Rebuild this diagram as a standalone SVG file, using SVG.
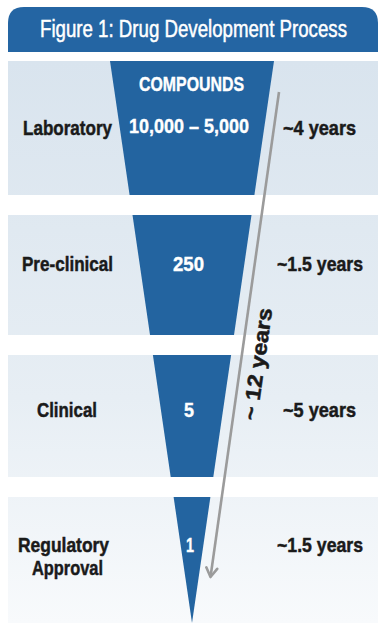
<svg xmlns="http://www.w3.org/2000/svg" width="380" height="623" viewBox="0 0 380 623">
<defs>
<linearGradient id="bandGrad" gradientUnits="userSpaceOnUse" x1="0" y1="61" x2="0" y2="623">
<stop offset="0" stop-color="#d9e4ee"/>
<stop offset="0.6" stop-color="#e7eef4"/>
<stop offset="1" stop-color="#f8fafc"/>
</linearGradient>
<marker id="arrowHead" markerUnits="userSpaceOnUse" markerWidth="14" markerHeight="14" viewBox="-12 -7 14 14" refX="0" refY="0" orient="auto">
<path d="M-9,-5.5 L0,0 L-9,5.5" fill="none" stroke="#9b9b9b" stroke-width="2.6" stroke-linejoin="round" stroke-linecap="round"/>
</marker>
<style>
.band{fill:url(#bandGrad);}
.funnel{fill:#2364a0;}
.lbl{font-family:"Liberation Sans Narrow","Liberation Sans",Arial,sans-serif;font-weight:bold;font-size:21px;fill:#1a1a1a;stroke:#1a1a1a;stroke-width:0.5px;}
.num{font-family:"Liberation Sans Narrow","Liberation Sans",Arial,sans-serif;font-weight:bold;font-size:21px;fill:#ffffff;stroke:#ffffff;stroke-width:0.4px;}
.title{font-family:"Liberation Sans Narrow","Liberation Sans",Arial,sans-serif;font-size:23.5px;fill:#ffffff;stroke:#ffffff;stroke-width:0.5px;}
.conn{stroke:#9b9b9b;stroke-width:2.6;fill:none;}
</style>
</defs>
<rect x="0" y="0" width="380" height="623" fill="#ffffff"/>
<g id="header">
<path d="M8,52 L8,23 Q8,7 24,7 L362,7 Q378,7 378,23 L378,52 Z" fill="#2465a3"/>
<text class="title" x="40" y="37" textLength="307" lengthAdjust="spacingAndGlyphs">Figure 1: Drug Development Process</text>
</g>
<g id="laboratory">
<rect class="band" x="8" y="61" width="370" height="134"/>
<polygon class="funnel" points="110,61 274,61 254.4,195 129.6,195"/>
<text class="num" x="139" y="90.5" font-size="20" textLength="105" lengthAdjust="spacingAndGlyphs">COMPOUNDS</text>
<text class="num" x="129" y="133" textLength="120" lengthAdjust="spacingAndGlyphs">10,000 – 5,000</text>
<text class="lbl" x="23" y="135" textLength="89" lengthAdjust="spacingAndGlyphs">Laboratory</text>
<text class="lbl" x="283" y="135" textLength="73" lengthAdjust="spacingAndGlyphs">~4 years</text>
</g>
<g id="preclinical">
<rect class="band" x="8" y="215" width="370" height="120"/>
<polygon class="funnel" points="132.5,215 251.5,215 234,335 150,335"/>
<text class="lbl" x="22" y="270.5" textLength="91" lengthAdjust="spacingAndGlyphs">Pre-clinical</text>
<text class="num" x="173" y="270.5" textLength="31" lengthAdjust="spacingAndGlyphs">250</text>
<text class="lbl" x="277" y="270.5" textLength="86" lengthAdjust="spacingAndGlyphs">~1.5 years</text>
</g>
<g id="clinical">
<rect class="band" x="8" y="355" width="370" height="122"/>
<polygon class="funnel" points="152.9,355 231.1,355 213.3,477 170.7,477"/>
<text class="lbl" x="37" y="417" textLength="60" lengthAdjust="spacingAndGlyphs">Clinical</text>
<text class="num" x="184" y="417" textLength="10" lengthAdjust="spacingAndGlyphs">5</text>
<text class="lbl" x="283" y="417" textLength="73" lengthAdjust="spacingAndGlyphs">~5 years</text>
</g>
<g id="regulatory">
<rect class="band" x="8" y="497" width="370" height="126"/>
<polygon class="funnel" points="173.6,497 210.4,497 192,623"/>
<text class="lbl" x="18" y="552" textLength="91" lengthAdjust="spacingAndGlyphs">Regulatory</text>
<text class="lbl" x="32" y="575" textLength="71" lengthAdjust="spacingAndGlyphs">Approval</text>
<text class="num" x="186" y="552" textLength="8" lengthAdjust="spacingAndGlyphs">1</text>
<text class="lbl" x="277" y="552" textLength="86" lengthAdjust="spacingAndGlyphs">~1.5 years</text>
</g>
<g id="connectors">
<line class="conn" x1="279" y1="92" x2="210.5" y2="577" marker-end="url(#arrowHead)"/>
<text class="lbl" transform="translate(264.5,365) rotate(-82)" x="0" y="0" text-anchor="middle" font-size="19" textLength="113" lengthAdjust="spacingAndGlyphs">~ 12 years</text>
</g>
</svg>
